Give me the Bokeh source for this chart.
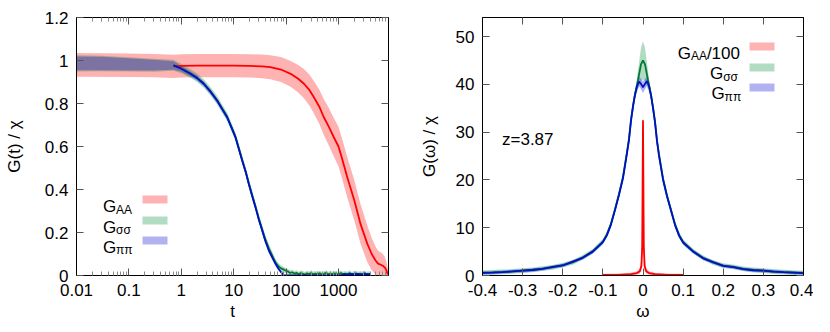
from bokeh.plotting import figure
from bokeh.layouts import row
from bokeh.models import (Range1d, FixedTicker, CustomJSTickFormatter, LinearAxis,
                          LogAxis, Label, BoxAnnotation)
from bokeh.embed import file_html
from bokeh.resources import INLINE

FONT = "Liberation Sans"

# ---------------- left panel data: G(t)/chi ----------------
t_ticks = [0.01, 0.1, 1, 10, 100, 1000]
g_ticks = [0, 0.2, 0.4, 0.6, 0.8, 1.0, 1.2]

# G_AA line
t_AA = [0.71, 1.0, 2.0, 5.0, 10, 20, 35, 50, 80, 122, 170, 219, 280, 339, 430, 525, 660,
        813, 1000, 1150, 1480, 2000, 2630, 3550, 4300, 5100, 5700, 6400, 7000, 7600, 8200, 8700]
G_AA = [0.973, 0.975, 0.976, 0.976, 0.976, 0.975, 0.973, 0.969, 0.958, 0.938, 0.915, 0.892,
        0.862, 0.829, 0.785, 0.736, 0.69, 0.643, 0.6, 0.55, 0.455, 0.35, 0.24, 0.147, 0.1,
        0.07, 0.055, 0.05, 0.045, 0.038, 0.025, 0.005]
AA_err = [0.054, 0.054, 0.054, 0.054, 0.054, 0.054, 0.055, 0.056, 0.058, 0.06, 0.064, 0.068,
          0.072, 0.076, 0.08, 0.084, 0.088, 0.09, 0.092, 0.093, 0.094, 0.094, 0.092, 0.085,
          0.075, 0.065, 0.06, 0.058, 0.055, 0.05, 0.04, 0.03]
t_AA_early = [0.01, 0.1, 0.3]
G_AA_early = [0.98, 0.978, 0.976]
AA_err_early = [0.055, 0.055, 0.054]

# G_pipi (blue) and G_sigsig (green)
t_pp = [0.71, 1.0, 1.49, 2.0, 2.67, 3.6, 4.8, 6.0, 7.5, 9.0, 10.8, 12.5, 14.5, 17, 19.4, 22.5,
        26, 30, 35, 40, 47, 55, 63, 72, 80, 91, 120, 400, 1100, 1250, 1450, 1700, 2000, 2350,
        2750, 3200, 3700, 4100]
G_pp = [0.977, 0.962, 0.938, 0.918, 0.892, 0.855, 0.814, 0.775, 0.736, 0.69, 0.643, 0.59,
        0.535, 0.48, 0.426, 0.37, 0.318, 0.262, 0.209, 0.162, 0.116, 0.082, 0.054, 0.03,
        0.016, 0.0, 0.0, 0.0, 0.0, 0.006, 0.004, 0.008, 0.005, 0.007, 0.004, 0.008, 0.005, 0.006]
pp_err = [0.02, 0.014, 0.012, 0.012, 0.012, 0.012, 0.012, 0.012, 0.012, 0.012, 0.012, 0.012,
          0.012, 0.012, 0.012, 0.012, 0.012, 0.012, 0.012, 0.012, 0.012, 0.01, 0.01, 0.008,
          0.006, 0.004, 0.003, 0.003, 0.003, 0.004, 0.004, 0.004, 0.004, 0.004, 0.004, 0.004,
          0.004, 0.004]

t_ss = [0.71, 1.0, 1.49, 2.0, 2.67, 3.6, 4.8, 6.0, 7.5, 9.0, 10.8, 12.5, 14.5, 17, 19.4, 22.5,
        26, 30, 35, 40, 47, 55, 63, 72, 80, 91, 100, 110, 120, 130, 145, 160, 175, 190, 210,
        230, 250, 275, 300, 330, 360, 400, 440, 480, 530, 580, 640, 700, 770, 850, 930, 1020,
        1120, 1230, 1350, 1480, 1630, 1790, 1970, 2160, 2380, 2610, 2870, 3150, 3460, 3800, 4100]
G_ss = [0.978, 0.963, 0.94, 0.92, 0.894, 0.857, 0.816, 0.777, 0.738, 0.692, 0.646, 0.593,
        0.538, 0.483, 0.43, 0.374, 0.322, 0.267, 0.214, 0.17, 0.125, 0.09, 0.06, 0.042, 0.033,
        0.027, 0.022, 0.018, 0.012, 0.015, 0.009, 0.012, 0.006, 0.011, 0.008, 0.004, 0.01,
        0.007, 0.012, 0.005, 0.009, 0.006, 0.011, 0.004, 0.008, 0.013, 0.005, 0.009, 0.006,
        0.01, 0.004, 0.008, 0.011, 0.005, 0.009, 0.006, 0.012, 0.004, 0.008, 0.01, 0.005,
        0.009, 0.006, 0.011, 0.005, 0.008, 0.006]
ss_err = [0.026, 0.022, 0.02, 0.02, 0.02, 0.02, 0.02, 0.02, 0.02, 0.02, 0.02, 0.02, 0.02,
          0.02, 0.02, 0.02, 0.02, 0.02, 0.02, 0.02, 0.02, 0.018, 0.016, 0.015, 0.014, 0.013,
          0.012, 0.012, 0.012, 0.012, 0.012, 0.012, 0.012, 0.012, 0.012, 0.012, 0.012, 0.012,
          0.012, 0.012, 0.012, 0.012, 0.012, 0.012, 0.012, 0.012, 0.012, 0.012, 0.012, 0.012,
          0.012, 0.012, 0.012, 0.012, 0.012, 0.012, 0.012, 0.012, 0.012, 0.012, 0.012, 0.012,
          0.012, 0.012, 0.012, 0.012, 0.012]
t_pp_early = [0.01, 0.03, 0.1, 0.3]
G_pp_early = [0.987, 0.986, 0.982, 0.978]
pp_err_early = [0.032, 0.031, 0.028, 0.025]
ss_err_early = [0.038, 0.036, 0.033, 0.03]

# ---------------- right panel data: G(omega)/chi ----------------
w_ticks = [-0.4, -0.3, -0.2, -0.1, 0.0, 0.1, 0.2, 0.3, 0.4]
gw_ticks = [0, 10, 20, 30, 40, 50]

w = [-0.4, -0.375, -0.35, -0.325, -0.3, -0.275, -0.25, -0.225, -0.2, -0.175, -0.15, -0.125,
     -0.1, -0.09, -0.08, -0.07, -0.06, -0.05, -0.04, -0.035, -0.03, -0.025, -0.02, -0.015,
     -0.01, -0.005, 0.0, 0.005, 0.01, 0.015, 0.02, 0.025, 0.03, 0.035, 0.04, 0.05, 0.06, 0.07,
     0.08, 0.09, 0.1, 0.125, 0.15, 0.175, 0.2, 0.225, 0.25, 0.275, 0.3, 0.325, 0.35, 0.375, 0.4]
Gw_pp = [0.56, 0.62, 0.72, 0.85, 1.0, 1.15, 1.4, 1.8, 2.1, 2.9, 3.7, 5.0, 7.0, 8.4, 10.6, 13.6,
         16.8, 20.3, 25.5, 28.3, 32.3, 35.3, 37.8, 39.6, 40.6, 40.1, 39.4, 40.1, 40.7, 39.7,
         37.7, 35.0, 32.0, 28.0, 25.0, 20.0, 16.5, 13.5, 10.5, 8.3, 6.9, 5.0, 3.6, 2.8, 2.0,
         1.75, 1.35, 1.1, 1.0, 0.82, 0.7, 0.6, 0.5]
Gw_ss = [0.58, 0.64, 0.74, 0.86, 1.02, 1.2, 1.42, 1.7, 2.15, 2.75, 3.8, 5.1, 7.1, 8.6, 10.8,
         13.8, 17.0, 20.6, 25.8, 28.6, 32.5, 35.5, 37.9, 39.8, 42.0, 44.2, 45.0, 44.2, 42.0,
         39.8, 37.8, 35.2, 32.2, 28.2, 25.3, 20.3, 16.7, 13.7, 10.7, 8.5, 7.0, 5.1, 3.7, 2.7,
         2.05, 1.8, 1.4, 1.15, 1.02, 0.84, 0.72, 0.62, 0.52]
ssw_err = [0.5, 0.5, 0.5, 0.5, 0.5, 0.5, 0.5, 0.5, 0.5, 0.5, 0.5, 0.5, 0.6, 0.6, 0.6, 0.6, 0.6,
           0.6, 0.6, 0.6, 0.7, 0.8, 1.0, 1.5, 2.5, 3.5, 4.0, 3.5, 2.5, 1.5, 1.0, 0.8, 0.7, 0.6,
           0.6, 0.6, 0.6, 0.6, 0.6, 0.6, 0.6, 0.5, 0.5, 0.5, 0.5, 0.5, 0.5, 0.5, 0.5, 0.5, 0.5,
           0.5, 0.5]
ppw_err = [0.35, 0.35, 0.35, 0.35, 0.35, 0.35, 0.35, 0.35, 0.35, 0.35, 0.35, 0.4, 0.4, 0.4,
           0.4, 0.4, 0.4, 0.4, 0.5, 0.5, 0.6, 0.7, 0.8, 0.9, 1.0, 1.1, 1.2, 1.1, 1.0, 0.9, 0.8,
           0.7, 0.6, 0.5, 0.5, 0.4, 0.4, 0.4, 0.4, 0.4, 0.4, 0.4, 0.35, 0.35, 0.35, 0.35, 0.35,
           0.35, 0.35, 0.35, 0.35, 0.35, 0.35]

w_AA = [-0.1, -0.06, -0.03, -0.015, -0.008, -0.004, -0.002, 0.0, 0.002, 0.004, 0.008, 0.015,
        0.03, 0.06, 0.1]
Gw_AA = [0.1, 0.15, 0.3, 0.5, 0.9, 2.0, 6.0, 32.5, 6.0, 2.0, 0.9, 0.5, 0.3, 0.15, 0.1]
Gw_AA_hi = [0.35, 0.4, 0.6, 0.9, 1.5, 3.5, 9.0, 36.5, 9.0, 3.5, 1.5, 0.9, 0.6, 0.4, 0.35]
Gw_AA_lo = [0.0, 0.0, 0.05, 0.2, 0.4, 1.0, 3.0, 29.0, 3.0, 1.0, 0.4, 0.2, 0.05, 0.0, 0.0]

# ---------------- styling ----------------
RED, GREEN, BLUE = "#ff0000", "#00883c", "#0000d0"
RED_LINE, GREEN_LINE, BLUE_LINE = "#ff0000", "#007a30", "#0010c8"
BAND_ALPHA = 0.3

tick_fmt = CustomJSTickFormatter(code="return String(Math.round(tick*10)/10)")
log_fmt = CustomJSTickFormatter(code="return String(tick)")
blank_fmt = CustomJSTickFormatter(code="return ''")


def style_axis(ax, labels=True):
    ax.axis_line_color = "black"
    ax.axis_line_width = 1
    ax.major_tick_in = 7
    ax.major_tick_out = 0
    ax.minor_tick_in = 4
    ax.minor_tick_out = 0
    ax.major_tick_line_color = "#555555"
    ax.minor_tick_line_color = "#8a8a8a"
    ax.major_label_text_font = FONT
    ax.major_label_text_font_size = "17px" if labels else "0px"
    ax.major_label_text_color = "black"
    ax.major_label_standoff = 8 if labels else 0
    ax.axis_label_text_font = FONT
    ax.axis_label_text_font_size = "17px"
    ax.axis_label_text_font_style = "normal"
    ax.axis_label_text_color = "black"


def label(p, x, y, text, size="17px", align="left"):
    p.add_layout(Label(x=x, y=y, x_units="screen", y_units="screen", text=text,
                       text_font=FONT, text_font_size=size, text_color="black",
                       text_baseline="alphabetic", text_align=align))


def swatch(p, left, right, bottom, top, color):
    p.add_layout(BoxAnnotation(left=left, right=right, bottom=bottom, top=top,
                               left_units="screen", right_units="screen",
                               bottom_units="screen", top_units="screen",
                               fill_color=color, fill_alpha=BAND_ALPHA, line_color=None))


# ---------------- left figure ----------------
minor_log = [k * d for d in t_ticks for k in range(2, 10) if k * d < 9000]
xt1 = FixedTicker(ticks=t_ticks, minor_ticks=minor_log)
yt1 = FixedTicker(ticks=g_ticks, minor_ticks=[])

p1 = figure(frame_width=312, frame_height=258, x_axis_type="log",
            x_range=Range1d(0.01, 9000), y_range=Range1d(0, 1.2),
            output_backend="svg", toolbar_location=None,
            min_border_left=76, min_border_right=18, min_border_top=17, min_border_bottom=54)
p1.grid.visible = False
p1.outline_line_color = "black"

p1.xaxis.ticker = xt1
p1.xaxis.formatter = log_fmt
p1.yaxis.ticker = yt1
p1.yaxis.formatter = tick_fmt
p1.xaxis.axis_label = "t"
p1.yaxis.axis_label = "G(t) / χ"
for ax in p1.xaxis + p1.yaxis:
    style_axis(ax)
p1.xaxis.axis_label_standoff = 3
p1.yaxis.axis_label_standoff = 18
top1 = LogAxis(ticker=xt1, formatter=blank_fmt)
right1 = LinearAxis(ticker=yt1, formatter=blank_fmt)
style_axis(top1, labels=False)
style_axis(right1, labels=False)
p1.add_layout(top1, "above")
p1.add_layout(right1, "right")

# bands
tb_AA = t_AA_early + t_AA
mid_AA = G_AA_early + G_AA
err_AA = AA_err_early + AA_err
p1.varea(x=tb_AA, y1=[max(0.0, m - e) for m, e in zip(mid_AA, err_AA)],
         y2=[m + e for m, e in zip(mid_AA, err_AA)], fill_color=RED, fill_alpha=BAND_ALPHA)

tb_ss = t_pp_early + t_ss
mid_ss = G_pp_early + G_ss
err_ss = ss_err_early + ss_err
p1.varea(x=tb_ss, y1=[max(0.0, m - e) for m, e in zip(mid_ss, err_ss)],
         y2=[m + e for m, e in zip(mid_ss, err_ss)], fill_color=GREEN, fill_alpha=BAND_ALPHA)

tb_pp = t_pp_early + t_pp
mid_pp = G_pp_early + G_pp
err_pp = pp_err_early + pp_err
p1.varea(x=tb_pp, y1=[max(0.0, m - e) for m, e in zip(mid_pp, err_pp)],
         y2=[m + e for m, e in zip(mid_pp, err_pp)], fill_color=BLUE, fill_alpha=BAND_ALPHA)

p1.line(t_AA, G_AA, line_color=RED_LINE, line_width=1.8)
p1.line(t_ss, G_ss, line_color=GREEN_LINE, line_width=1.8)
p1.line(t_pp, G_pp, line_color=BLUE_LINE, line_width=1.8)

# legend (frame-relative screen coords)
label(p1, 26.5, 69, "G")
label(p1, 39.5, 66, "AA", size="12px")
label(p1, 26.5, 48.5, "G")
label(p1, 39.5, 45.5, "σσ", size="12px")
label(p1, 26.5, 28.3, "G")
label(p1, 39.5, 25.3, "ππ", size="12px")
swatch(p1, 66, 91, 72, 80, RED)
swatch(p1, 66, 91, 51, 59, GREEN)
swatch(p1, 66, 91, 31, 39, BLUE)

# ---------------- right figure ----------------
xt2 = FixedTicker(ticks=w_ticks, minor_ticks=[])
yt2 = FixedTicker(ticks=gw_ticks, minor_ticks=[])

p2 = figure(frame_width=321, frame_height=258,
            x_range=Range1d(-0.4, 0.4), y_range=Range1d(0, 54),
            output_backend="svg", toolbar_location=None,
            min_border_left=76, min_border_right=10, min_border_top=17, min_border_bottom=54)
p2.grid.visible = False
p2.outline_line_color = "black"
p2.xaxis.ticker = xt2
p2.xaxis.formatter = tick_fmt
p2.yaxis.ticker = yt2
p2.yaxis.formatter = tick_fmt
p2.xaxis.axis_label = "ω"
p2.yaxis.axis_label = "G(ω) / χ"
for ax in p2.xaxis + p2.yaxis:
    style_axis(ax)
p2.xaxis.axis_label_standoff = 3
p2.yaxis.axis_label_standoff = 14
top2 = LinearAxis(ticker=xt2, formatter=blank_fmt)
right2 = LinearAxis(ticker=yt2, formatter=blank_fmt)
style_axis(top2, labels=False)
style_axis(right2, labels=False)
p2.add_layout(top2, "above")
p2.add_layout(right2, "right")

p2.varea(x=w, y1=[max(0.0, m - e) for m, e in zip(Gw_ss, ssw_err)],
         y2=[m + e for m, e in zip(Gw_ss, ssw_err)], fill_color=GREEN, fill_alpha=BAND_ALPHA)
p2.varea(x=w, y1=[max(0.0, m - e) for m, e in zip(Gw_pp, ppw_err)],
         y2=[m + e for m, e in zip(Gw_pp, ppw_err)], fill_color=BLUE, fill_alpha=BAND_ALPHA)
p2.line(w, Gw_ss, line_color=GREEN_LINE, line_width=1.8)
p2.line(w, Gw_pp, line_color=BLUE_LINE, line_width=1.8)
p2.varea(x=w_AA, y1=Gw_AA_lo, y2=Gw_AA_hi, fill_color=RED, fill_alpha=BAND_ALPHA)
p2.line(w_AA, Gw_AA, line_color=RED_LINE, line_width=1.8)

label(p2, 19.5, 136, "z=3.87")
label(p2, 195.2, 222.3, "G")
label(p2, 208.4, 219.3, "AA", size="12px")
label(p2, 224.4, 222.3, "/100")
label(p2, 227.5, 201.7, "G")
label(p2, 240.7, 198.7, "σσ", size="12px")
label(p2, 228.9, 181.7, "G")
label(p2, 242.1, 178.7, "ππ", size="12px")
swatch(p2, 267, 292, 225, 233, RED)
swatch(p2, 267, 292, 204, 212, GREEN)
swatch(p2, 267, 292, 184, 192, BLUE)

layout = row(p1, p2)
open("out.html", "w").write(file_html(layout, INLINE))
